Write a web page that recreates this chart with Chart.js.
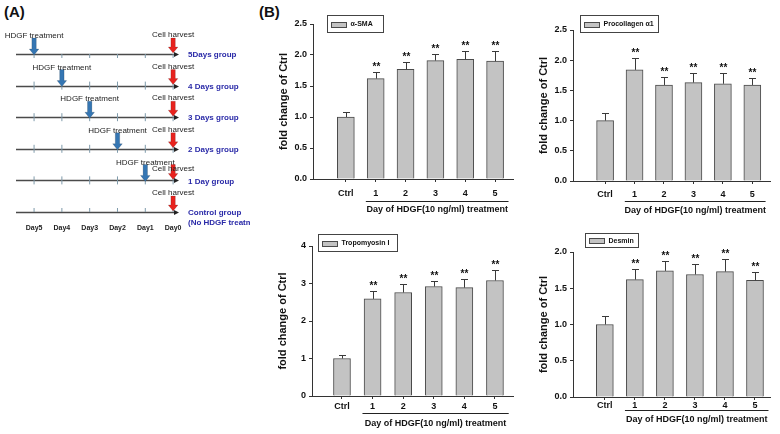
<!DOCTYPE html>
<html>
<head>
<meta charset="utf-8">
<script src="https://cdn.jsdelivr.net/npm/chart.js@4.4.0/dist/chart.umd.min.js"></script>
<style>
html,body{margin:0;padding:0;background:#fff;}
#wrap{position:relative;width:780px;height:434px;overflow:hidden;background:#fff;}
canvas{position:absolute;}
.lbl{position:absolute;font:bold 15px "Liberation Sans",Arial,sans-serif;color:#111;}
</style>
</head>
<body>
<div id="wrap">
  <div class="lbl" style="left:4px;top:3px">(A)</div>
  <div class="lbl" style="left:259px;top:3px">(B)</div>
  <canvas id="cA"></canvas>
  <canvas id="c1"></canvas>
  <canvas id="c2"></canvas>
  <canvas id="c3"></canvas>
  <canvas id="c4"></canvas>
</div>
<script>
// ---------------- DATA ----------------
const categories = ['Ctrl', '1', '2', '3', '4', '5'];
const catIndex = [0, 1, 2, 3, 4, 5];
const sigMarks = ['', '**', '**', '**', '**', '**'];

const smaMean    = [1.00, 1.62, 1.77, 1.91, 1.93, 1.90];
const smaErr     = [0.08, 0.10, 0.12, 0.11, 0.14, 0.17];
const procolMean = [1.00, 1.84, 1.59, 1.63, 1.61, 1.59];
const procolErr  = [0.12, 0.19, 0.14, 0.15, 0.18, 0.12];
const tropoMean  = [1.00, 2.59, 2.76, 2.92, 2.89, 3.08];
const tropoErr   = [0.09, 0.20, 0.22, 0.16, 0.23, 0.28];
const desminMean = [1.00, 1.62, 1.74, 1.69, 1.73, 1.61];
const desminErr  = [0.12, 0.15, 0.13, 0.15, 0.17, 0.11];

const smaTicks    = [0, 0.5, 1.0, 1.5, 2.0, 2.5];
const procolTicks = [0, 0.5, 1.0, 1.5, 2.0, 2.5];
const tropoTicks  = [0, 1, 2, 3, 4];
const desminTicks = [0, 0.5, 1.0, 1.5, 2.0];

const yAxisTitle = 'fold change of Ctrl';
const xAxisTitle = 'Day of HDGF(10 ng/ml) treatment';

// Panel A (schematic timeline)
const dayTicks   = [5, 4, 3, 2, 1, 0];
const dayLabels  = ['Day5', 'Day4', 'Day3', 'Day2', 'Day1', 'Day0'];
const groupNames = ['5Days group', '4 Days group', '3 Days group', '2 Days group', '1 Day group', 'Control group'];
const groupNotes = ['', '', '', '', '', '(No HDGF treatment)'];
const treatmentDay = [5, 4, 3, 2, 1, null];
const harvestDay   = [0, 0, 0, 0, 0, 0];
const treatmentText = 'HDGF treatment';
const harvestText = 'Cell harvest';

// ---------------- RENDER ----------------
const FONT = '"Liberation Sans", Arial, sans-serif';

function makeBar(id, o) {
  const cv = document.getElementById(id);
  cv.width = o.box.w; cv.height = o.box.h;
  cv.style.left = o.box.l + 'px'; cv.style.top = o.box.t + 'px';
  const aL = o.area.l - o.box.l, aR = o.area.r - o.box.l;
  const aT = o.area.t - o.box.t, aB = o.area.b - o.box.t;
  const extras = {
    id: 'extras',
    afterDatasetsDraw(chart) {
      const ctx = chart.ctx, ys = chart.scales.y, xs = chart.scales.x;
      const meta = chart.getDatasetMeta(0);
      ctx.save();
      ctx.strokeStyle = '#3a3a3a'; ctx.lineWidth = 1;
      meta.data.forEach((el, i) => {
        const top = Math.round(ys.getPixelForValue(o.mean[i] + o.err[i])) + 0.5;
        const x = Math.round(el.x) + 0.5;
        ctx.beginPath();
        ctx.moveTo(x, el.y); ctx.lineTo(x, top);
        ctx.moveTo(x - 3.5, top); ctx.lineTo(x + 3.5, top);
        ctx.stroke();
        if (o.sig[i]) {
          ctx.fillStyle = '#111';
          ctx.font = 'bold 10px ' + FONT;
          ctx.textAlign = 'center'; ctx.textBaseline = 'alphabetic';
          ctx.fillText(o.sig[i], x, top - 3);
        }
      });
      // group underline + treatment title
      const x1 = xs.getPixelForValue(0.67), x2 = xs.getPixelForValue(5.45);
      const ly = Math.round(aB + o.lineGap) + 0.5;
      ctx.strokeStyle = '#222'; ctx.lineWidth = 1;
      ctx.beginPath(); ctx.moveTo(x1, ly); ctx.lineTo(x2, ly); ctx.stroke();
      ctx.fillStyle = '#111';
      ctx.font = 'bold 9px ' + FONT;
      ctx.textAlign = 'center'; ctx.textBaseline = 'middle';
      ctx.fillText(xAxisTitle, (x1 + x2) / 2, aB + o.titleGap);
      // legend box
      const lg = o.legend;
      const lx = lg.x - o.box.l + 0.5, lyy = lg.y - o.box.t + 0.5;
      ctx.strokeStyle = '#444';
      ctx.strokeRect(lx, lyy, lg.w, lg.h);
      const sy = Math.round(lyy + lg.h / 2 - 2.5) + 0.5;
      ctx.fillStyle = '#c3c3c3';
      ctx.fillRect(lx + 4, sy, 15, 5);
      ctx.strokeStyle = '#4a4a4a';
      ctx.strokeRect(lx + 4, sy, 15, 5);
      ctx.fillStyle = '#111';
      ctx.font = 'bold 7px ' + FONT;
      ctx.textAlign = 'left'; ctx.textBaseline = 'middle';
      ctx.fillText(o.label, lx + 23, lyy + lg.h / 2 + 0.5);
      ctx.restore();
    }
  };
  const axisGrid = { drawOnChartArea: false, drawTicks: true, tickLength: 3, color: '#333', lineWidth: 1, offset: false };
  const axisBorder = { display: true, color: '#333', width: 1 };
  const tickFont = { family: FONT, size: 9, weight: 'bold' };
  return new Chart(cv, {
    type: 'bar',
    data: {
      datasets: [{
        label: o.label,
        data: o.mean.map((v, i) => ({ x: catIndex[i], y: v })),
        backgroundColor: '#c3c3c3',
        borderColor: '#4a4a4a',
        borderWidth: 1,
        barThickness: 17
      }]
    },
    options: {
      responsive: false, animation: false, events: [],
      layout: { padding: { left: 0, top: aT, right: o.box.w - aR, bottom: 0 } },
      plugins: { legend: { display: false }, tooltip: { enabled: false } },
      scales: {
        x: {
          type: 'linear', min: o.xMin, max: o.xMax, offset: false,
          afterBuildTicks: s => { s.ticks = catIndex.map(v => ({ value: v })); },
          afterFit: s => { s.height = o.box.h - aB; },
          grid: axisGrid, border: axisBorder,
          ticks: {
            callback: v => (categories[v] !== undefined ? categories[v] : ''),
            autoSkip: false, maxRotation: 0, minRotation: 0,
            padding: o.labelPad, color: '#111', font: tickFont
          }
        },
        y: {
          min: 0, max: o.ticks[o.ticks.length - 1],
          afterBuildTicks: s => { s.ticks = o.ticks.map(v => ({ value: v })); },
          afterFit: s => { s.width = aL; },
          grid: axisGrid, border: axisBorder,
          ticks: { callback: v => o.fmt(v), padding: 3, color: '#111', font: tickFont },
          title: {
            display: true, text: yAxisTitle, color: '#111',
            font: { family: FONT, size: 11, weight: 'bold' },
            padding: { top: aL - 29 - 6.6, bottom: 0 }
          }
        }
      }
    },
    plugins: [extras]
  });
}

const f1 = v => v.toFixed(1);
const f0 = v => v.toFixed(0);

makeBar('c1', {
  mean: smaMean, err: smaErr, sig: sigMarks, label: '\u03B1-SMA', ticks: smaTicks, fmt: f1,
  box: { l: 250, t: 0, w: 280, h: 220 }, area: { l: 313, r: 513, t: 24, b: 179 },
  xMin: -1.1, xMax: 5.6, labelPad: 6, lineGap: 22, titleGap: 31,
  legend: { x: 327, y: 15, w: 56, h: 17 }
});
makeBar('c2', {
  mean: procolMean, err: procolErr, sig: sigMarks, label: 'Procollagen \u03B11', ticks: procolTicks, fmt: f1,
  box: { l: 530, t: 0, w: 250, h: 220 }, area: { l: 573, r: 770, t: 30, b: 181 },
  xMin: -1.09, xMax: 5.6, labelPad: 5, lineGap: 20, titleGap: 30,
  legend: { x: 580, y: 15, w: 78, h: 17 }
});
makeBar('c3', {
  mean: tropoMean, err: tropoErr, sig: sigMarks, label: 'Tropomyosin I', ticks: tropoTicks, fmt: f0,
  box: { l: 250, t: 220, w: 280, h: 214 }, area: { l: 312, r: 513, t: 246, b: 396 },
  xMin: -0.98, xMax: 5.59, labelPad: 2, lineGap: 17, titleGap: 28,
  legend: { x: 318, y: 234, w: 79, h: 17 }
});
makeBar('c4', {
  mean: desminMean, err: desminErr, sig: sigMarks, label: 'Desmin', ticks: desminTicks, fmt: f1,
  box: { l: 530, t: 220, w: 250, h: 214 }, area: { l: 573, r: 770, t: 252, b: 397 },
  xMin: -1.06, xMax: 5.5, labelPad: 0, lineGap: 13, titleGap: 23,
  legend: { x: 585, y: 233, w: 53, h: 14 }
});

// ---------------- PANEL A ----------------
(function () {
  const cv = document.getElementById('cA');
  const W = 250, H = 240, areaL = 16, areaR = 177, areaT = 54, areaB = 212;
  cv.width = W; cv.height = H; cv.style.left = '0px'; cv.style.top = '0px';

  function arrow(ctx, x, yTip, len, color) {
    ctx.fillStyle = color;
    ctx.strokeStyle = 'rgba(0,0,0,0.25)';
    ctx.lineWidth = 0.6;
    ctx.beginPath();
    ctx.moveTo(x - 2.2, yTip - len);
    ctx.lineTo(x + 2.2, yTip - len);
    ctx.lineTo(x + 2.2, yTip - 6);
    ctx.lineTo(x + 4.8, yTip - 6);
    ctx.lineTo(x, yTip);
    ctx.lineTo(x - 4.8, yTip - 6);
    ctx.lineTo(x - 2.2, yTip - 6);
    ctx.closePath();
    ctx.fill(); ctx.stroke();
  }

  const schematic = {
    id: 'schematic',
    beforeDatasetsDraw(chart) {
      const ctx = chart.ctx, ys = chart.scales.y, ca = chart.chartArea;
      ctx.save();
      groupNames.forEach((g, i) => {
        const y = Math.round(ys.getPixelForValue(i)) + 0.5;
        ctx.strokeStyle = '#4a4a4a'; ctx.lineWidth = 1.3;
        ctx.beginPath(); ctx.moveTo(ca.left, y); ctx.lineTo(ca.right - 2, y); ctx.stroke();
        ctx.fillStyle = '#222';
        ctx.beginPath(); ctx.moveTo(ca.right + 2, y); ctx.lineTo(ca.right - 3, y - 2.5); ctx.lineTo(ca.right - 3, y + 2.5); ctx.closePath(); ctx.fill();
      });
      ctx.restore();
    },
    afterDatasetsDraw(chart) {
      const ctx = chart.ctx, ys = chart.scales.y, xs = chart.scales.x, ca = chart.chartArea;
      ctx.save();
      ctx.font = '8px ' + FONT;
      groupNames.forEach((g, i) => {
        const y = ys.getPixelForValue(i);
        const hx = xs.getPixelForValue(harvestDay[i]);
        let hy = y - 19;
        if (treatmentDay[i] !== null) {
          const tx = xs.getPixelForValue(treatmentDay[i]);
          arrow(ctx, tx, y + 1, 17, '#3576b3');
          ctx.font = '8px ' + FONT;
          ctx.fillStyle = '#222'; ctx.textAlign = 'center'; ctx.textBaseline = 'middle';
          ctx.fillText(treatmentText, tx, y - 18);
          const tw = ctx.measureText(treatmentText).width;
          const hw = ctx.measureText(harvestText).width;
          if (tx + tw / 2 > hx - hw / 2) hy = y - 12;
        }
        arrow(ctx, hx, y - 1, 15, '#e8231e');
        ctx.font = '8px ' + FONT;
        ctx.fillStyle = '#222'; ctx.textAlign = 'center'; ctx.textBaseline = 'middle';
        ctx.fillText(harvestText, hx, hy);
        ctx.font = 'bold 8px ' + FONT;
        ctx.fillStyle = '#2a2aa8'; ctx.textAlign = 'left';
        ctx.fillText(g, ca.right + 11, y + 1);
        if (groupNotes[i]) ctx.fillText(groupNotes[i], ca.right + 11, y + 11);
      });
      ctx.restore();
    }
  };

  const tickPts = [];
  groupNames.forEach((g, i) => dayTicks.forEach(d => tickPts.push({ x: d, y: i })));

  new Chart(cv, {
    type: 'scatter',
    data: {
      datasets: [{
        data: tickPts,
        pointStyle: 'line', rotation: 90, radius: 4,
        borderColor: '#7f9aab', borderWidth: 1, backgroundColor: '#7f9aab'
      }]
    },
    options: {
      responsive: false, animation: false, events: [],
      layout: { padding: { left: areaL, right: W - areaR, top: areaT, bottom: 0 } },
      plugins: { legend: { display: false }, tooltip: { enabled: false } },
      scales: {
        x: {
          type: 'linear', min: -0.14, max: 5.65, reverse: true,
          afterBuildTicks: s => { s.ticks = dayTicks.map(v => ({ value: v })); },
          afterFit: s => { s.height = H - areaB; },
          grid: { display: false }, border: { display: false },
          ticks: {
            callback: v => dayLabels[dayTicks.indexOf(v)] || '',
            autoSkip: false, maxRotation: 0, padding: 4, color: '#222',
            font: { family: FONT, size: 7, weight: 'bold' }
          }
        },
        y: { display: false, min: 0, max: 5, reverse: true }
      }
    },
    plugins: [schematic]
  });
})();
</script>
</body>
</html>
